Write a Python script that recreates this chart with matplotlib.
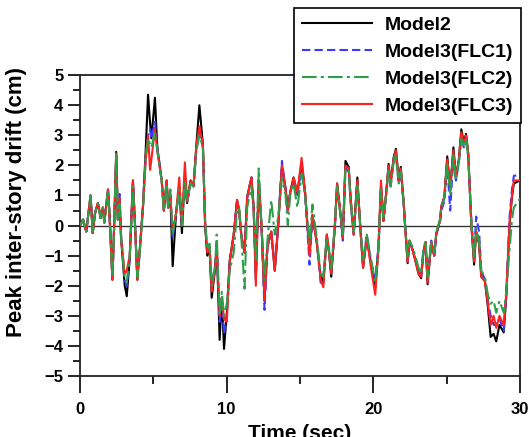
import numpy as np
import matplotlib
matplotlib.use("Agg")
import matplotlib.pyplot as plt
from matplotlib.ticker import MultipleLocator

plt.rcParams['font.family'] = ['Liberation Sans', 'DejaVu Sans']
plt.rcParams['font.weight'] = 'bold'

# time (sec)
t = [0.0, 0.21, 0.43, 0.72, 0.87, 1.02, 1.22, 1.41, 1.56, 1.66,
     1.91, 2.01, 2.21, 2.30, 2.47, 2.58, 2.70, 2.80, 3.05, 3.19,
     3.39, 3.61, 3.74, 3.91, 4.06, 4.29, 4.48, 4.64, 4.78, 4.87,
     5.11, 5.27, 5.57, 5.72, 5.91, 6.01, 6.16, 6.32, 6.55, 6.77,
     6.95, 7.15, 7.30, 7.54, 7.74, 7.94, 8.14, 8.38, 8.53, 8.68,
     8.83, 8.98, 9.22, 9.32, 9.52, 9.67, 9.82, 10.01, 10.21, 10.48,
     10.71, 10.85, 11.00, 11.22, 11.40, 11.69, 11.84, 11.99, 12.19, 12.39,
     12.58, 12.78, 13.04, 13.28, 13.52, 13.77, 14.02, 14.17, 14.33, 14.56,
     14.82, 15.11, 15.35, 15.50, 15.65, 15.85, 16.14, 16.41, 16.59, 16.83,
     16.98, 17.13, 17.38, 17.53, 17.77, 17.92, 18.10, 18.32, 18.46, 18.66,
     18.91, 19.11, 19.30, 19.55, 19.84, 20.13, 20.35, 20.52, 20.69, 20.89,
     21.04, 21.18, 21.38, 21.54, 21.73, 21.87, 22.07, 22.17, 22.34, 22.47,
     22.67, 22.86, 23.08, 23.26, 23.41, 23.56, 23.70, 23.95, 24.15, 24.30,
     24.54, 24.64, 24.84, 25.04, 25.24, 25.46, 25.63, 25.83, 26.00, 26.17,
     26.32, 26.47, 26.68, 26.87, 27.01, 27.21, 27.36, 27.61, 27.81, 28.00,
     28.20, 28.38, 28.60, 28.89, 29.06, 29.29, 29.45, 29.58, 30.0]

# peak inter-story drift (cm)
model2 = [0.0, 0.2, -0.2, 1.0, -0.25, 0.4, 0.75, 0.25, 0.6, 0.1,
          1.2, 0.4, -1.8, -0.5, 2.45, 0.2, 0.9, -0.4, -2.0, -2.35,
          -1.1, 1.5, 0.15, -1.8, -0.9, 0.6, 2.5, 4.35, 3.4, 2.9,
          4.25, 2.6, 1.5, 0.5, 1.5, 0.6, 1.0, -1.35, 0.4, 1.3,
          -0.25, 1.7, 0.75, 1.5, 1.3, 2.7, 4.0, 2.7, 0.0, -1.0,
          -0.7, -2.4, -1.4, -0.6, -3.8, -2.4, -4.1, -2.9, -1.15, -0.3,
          0.85, 0.5, -0.35, -0.9, 0.95, 1.6, 0.6, -1.7, 1.5, -0.15,
          -2.5, -0.7, -0.2, -1.5, 0.05, 2.0, 1.2, 0.5, 1.1, 1.6,
          1.05, 2.1, 1.1, 0.05, -0.95, 0.35, -0.55, -1.7, -1.9, -0.3,
          -0.9, -1.7, 0.0, 1.4, 0.35, -0.4, 2.15, 1.95, 0.85, -0.3,
          1.6, -0.05, -1.4, -0.4, -1.25, -2.05, -0.75, 1.3, 0.15, 1.15,
          2.05, 1.4, 2.25, 2.55, 1.5, 1.95, 0.75, -0.05, -1.25, -0.5,
          -0.8, -1.15, -1.6, -1.75, -0.9, -0.55, -1.95, -0.55, -1.0, -0.25,
          0.15, 0.65, 0.95, 2.3, 1.2, 2.6, 1.6, 2.2, 3.2, 2.75,
          3.05, 2.4, 0.05, -1.3, -0.2, -0.6, -1.7, -1.85, -2.7, -3.7,
          -3.6, -3.85, -3.3, -3.55, -2.4, 0.05, 0.95, 1.4, 1.5]

flc1 = [0.0, 0.2, -0.2, 1.0, -0.25, 0.4, 0.75, 0.25, 0.6, 0.1,
        1.2, 0.4, -1.7, -0.5, 2.3, 0.3, 1.05, -0.3, -1.8, -2.0,
        -1.1, 1.4, 0.2, -1.7, -1.0, 0.6, 2.3, 3.0, 3.2, 2.9,
        3.45, 2.6, 1.5, 0.5, 1.4, 0.6, 1.0, -0.4, 0.4, 1.3,
        0.0, 1.6, 0.75, 1.4, 1.3, 2.6, 3.1, 2.6, 0.1, -0.9,
        -0.7, -2.0, -1.3, -0.6, -3.2, -2.4, -3.6, -3.0, -1.2, -0.3,
        0.85, 0.5, -0.3, -0.9, 0.95, 1.6, 0.6, -1.8, 1.5, -0.2,
        -2.8, -0.7, -0.2, -1.4, 0.1, 2.15, 1.2, 0.5, 1.1, 1.5,
        1.0, 2.0, 1.0, -0.1, -1.3, 0.3, -0.5, -1.9, -1.7, -0.5,
        -0.9, -1.5, 0.0, 1.3, 0.3, -0.5, 1.9, 1.8, 0.7, -0.3,
        1.4, -0.05, -1.3, -0.3, -1.2, -1.8, -0.7, 1.3, 0.2, 1.1,
        1.9, 1.3, 2.1, 2.3, 1.4, 1.8, 0.7, 0.0, -1.2, -0.5,
        -0.8, -1.1, -1.5, -1.6, -0.9, -0.6, -1.8, -0.5, -1.0, -0.3,
        0.1, 0.5, 0.8, 2.0, 0.5, 2.3, 1.5, 2.1, 2.9, 2.6,
        2.8, 2.3, 0.2, -1.0, 0.3, -0.2, -1.5, -1.8, -2.5, -3.0,
        -3.3, -3.3, -3.1, -3.5, -2.3, 0.3, 1.2, 1.65, 1.7]

flc2 = [0.0, 0.2, -0.2, 1.0, -0.25, 0.4, 0.75, 0.25, 0.6, 0.1,
        1.2, 0.4, -1.7, -0.5, 2.4, 0.2, 0.8, -0.4, -1.8, -1.9,
        -1.0, 1.3, 0.1, -1.7, -1.0, 0.5, 2.2, 2.9, 2.7, 2.6,
        3.1, 2.5, 1.5, 0.5, 1.4, 0.6, 1.2, -0.3, 0.4, 1.2,
        0.0, 1.5, 0.8, 1.4, 1.3, 2.5, 3.0, 2.6, 0.2, -0.8,
        -0.6, -2.0, -1.3, -0.3, -3.0, -2.2, -3.0, -2.6, -1.5, -0.9,
        0.5, 0.6, -0.4, -2.1, 0.6, 1.3, 0.5, -1.2, 1.9, -0.1,
        -1.8, -0.5, 0.85, -0.3, 0.3, 1.6, 1.0, 0.0, 1.0, 1.4,
        0.6, 1.7, 1.0, 0.2, -0.6, 0.7, -0.4, -1.6, -1.7, -0.4,
        -0.8, -1.5, 0.1, 1.3, 0.3, -0.3, 1.9, 1.8, 0.8, -0.2,
        1.4, 0.0, -1.2, -0.3, -1.1, -1.9, -0.7, 1.2, 0.2, 1.1,
        1.9, 1.3, 2.1, 2.4, 1.4, 1.8, 0.7, 0.0, -1.1, -0.5,
        -0.7, -1.0, -1.4, -1.6, -0.8, -0.5, -1.7, -0.5, -0.9, -0.2,
        0.2, 0.6, 0.9, 2.1, 1.0, 2.4, 1.5, 2.1, 2.9, 2.6,
        2.9, 2.3, 0.1, -1.1, -0.1, -0.5, -1.5, -1.7, -2.3, -2.6,
        -2.5, -2.9, -2.5, -2.9, -2.2, -0.8, 0.2, 0.6, 0.9]

flc3 = [0.0, 0.2, -0.2, 1.0, -0.25, 0.4, 0.75, 0.25, 0.6, 0.1,
        1.2, 0.4, -1.8, -0.5, 2.4, 0.2, 0.9, -0.4, -1.6, -1.5,
        -1.0, 1.5, 0.15, -1.8, -0.9, 0.6, 2.2, 3.0, 1.85, 2.2,
        3.2, 2.5, 1.5, 0.5, 1.5, 0.6, 1.0, -0.2, 0.4, 1.6,
        0.0, 2.1, 0.8, 1.5, 1.3, 2.7, 3.3, 2.7, 0.1, -0.9,
        -0.7, -2.2, -1.4, -0.6, -3.0, -2.4, -3.1, -3.2, -1.2, -0.3,
        0.85, 0.5, -0.3, -0.9, 0.95, 1.6, 0.6, -2.0, 1.5, -0.15,
        -2.5, -0.7, -0.2, -1.5, 0.05, 2.0, 1.2, 0.5, 1.1, 1.6,
        1.1, 2.25, 1.1, 0.05, -1.0, 0.35, -0.55, -1.8, -2.05, -0.3,
        -0.9, -1.6, 0.0, 1.4, 0.35, -0.4, 2.0, 1.9, 0.85, -0.3,
        1.5, -0.05, -1.4, -0.4, -1.4, -2.3, -0.75, 1.5, 0.15, 1.15,
        2.0, 1.4, 2.2, 2.5, 1.5, 1.9, 0.75, -0.05, -1.2, -0.5,
        -0.8, -1.15, -1.6, -1.7, -0.9, -0.55, -1.9, -0.55, -1.0, -0.25,
        0.15, 0.65, 0.95, 2.2, 1.2, 2.5, 1.6, 2.2, 3.1, 2.7,
        3.0, 2.4, 0.05, -1.2, -0.2, -0.6, -1.7, -1.85, -2.6, -3.3,
        -3.0, -3.4, -3.0, -3.3, -2.3, 0.1, 1.0, 1.5, 1.5]

labels = ['Model2', 'Model3(FLC1)', 'Model3(FLC2)', 'Model3(FLC3)']

fig = plt.figure(figsize=(5.29, 4.37), dpi=100)
ax = fig.add_axes([0.1512, 0.1396, 0.8318, 0.6884])

l0, = ax.plot(t, model2, color='black', lw=1.5, zorder=3, label=labels[0])
l1, = ax.plot(t, flc1, color='#3a3aff', lw=1.5, ls=(0, (4, 2)), zorder=4, label=labels[1])
l3, = ax.plot(t, flc3, color='#ff2020', lw=1.5, zorder=5, label=labels[3])
l2, = ax.plot(t, flc2, color='#2e9e4a', lw=1.5, ls=(0, (7, 2, 1.5, 2)), zorder=6, label=labels[2])
ax.axhline(0, color='#333333', lw=1.0, zorder=2)

ax.set_xlim(0, 30)
ax.set_ylim(-5, 5)
ax.xaxis.set_major_locator(MultipleLocator(10))
ax.xaxis.set_minor_locator(MultipleLocator(5))
ax.yaxis.set_major_locator(MultipleLocator(1))
ax.yaxis.set_minor_locator(MultipleLocator(0.5))
ax.tick_params(axis='x', which='major', direction='out', length=12, width=1.2, labelsize=12, pad=7)
ax.tick_params(axis='x', which='minor', direction='out', length=6, width=1.2)
ax.tick_params(axis='y', which='major', direction='out', length=9, width=1.2, labelsize=12, pad=3)
ax.tick_params(axis='y', which='minor', direction='out', length=5, width=1.2)
for lab in ax.get_xticklabels() + ax.get_yticklabels():
    lab.set_fontweight('bold')
for s in ax.spines.values():
    s.set_linewidth(1.3)
    s.set_color('#222222')

ax.set_xlabel('Time (sec)', fontsize=15, fontweight='bold', labelpad=5)
ax.set_ylabel('Peak inter-story drift (cm)', fontsize=16, fontweight='bold')
ax.yaxis.set_label_coords(-0.12, 0.58)

leg = fig.legend([l0, l1, l2, l3], labels, loc='upper right',
                 bbox_to_anchor=(0.985, 0.981), borderaxespad=0,
                 fancybox=False, edgecolor='black', framealpha=1,
                 prop={'weight': 'bold', 'size': 14},
                 handlelength=3.6, handletextpad=0.62, labelspacing=0.48,
                 borderpad=0.42)
leg.get_frame().set_linewidth(1.2)

fig.savefig('out.png', dpi=100)
